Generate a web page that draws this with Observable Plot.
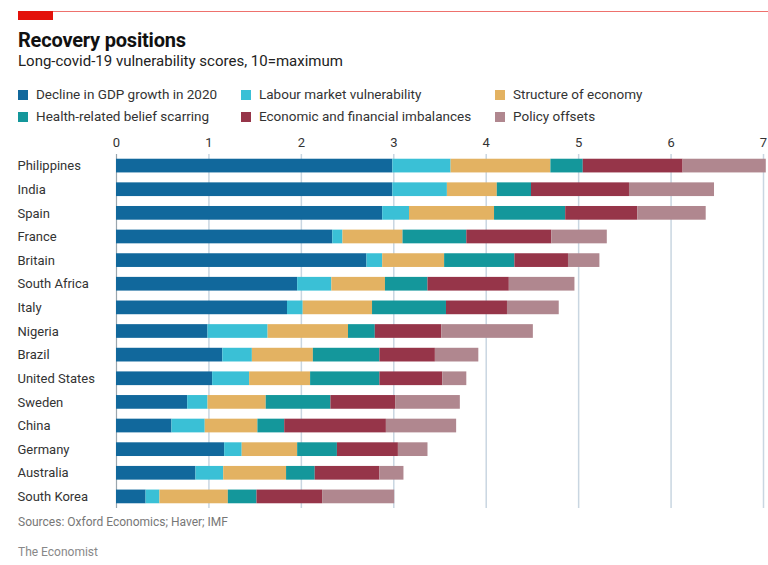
<!DOCTYPE html>
<html>
<head>
<meta charset="utf-8">
<script src="https://cdn.jsdelivr.net/npm/d3@7"></script>
<script src="https://cdn.jsdelivr.net/npm/@observablehq/plot@0.6"></script>
<style>
  html, body { margin: 0; padding: 0; background: #fff; }
  body { width: 768px; height: 565px; position: relative; overflow: hidden; font-family: "Roboto", "DejaVu Sans", sans-serif; color: #222; }
  .topline { position: absolute; left: 18px; right: 0; top: 11px; height: 1px; background: #e3120b; opacity: 0.6; }
  .redbox { position: absolute; left: 18px; top: 11px; width: 35px; height: 9px; background: #e3120b; }
  .title { position: absolute; left: 18px; top: 28px; font-size: 20px; font-weight: bold; color: #111; letter-spacing: -0.2px; }
  .subtitle { position: absolute; left: 18px; top: 52px; font-size: 15px; color: #222; }
  .legend { position: absolute; left: 18px; top: 86px; width: 740px; }
  .item { position: absolute; font-size: 13.5px; color: #333; white-space: nowrap; line-height: 16px; }
  .item span.sw { display: inline-block; width: 10px; height: 10px; margin-right: 8px; vertical-align: -1px; }
  #chart { position: absolute; left: 0; top: 130px; }
  .source { position: absolute; left: 18px; top: 515px; font-size: 12px; color: #777; }
  .brand { position: absolute; left: 18px; top: 545px; font-size: 12px; color: #888; }
</style>
</head>
<body>
<div class="topline"></div>
<div class="redbox"></div>
<div class="title">Recovery positions</div>
<div class="subtitle">Long-covid-19 vulnerability scores, 10=maximum</div>
<div class="legend" id="legend"></div>
<div id="chart"></div>
<div class="source">Sources: Oxford Economics; Haver; IMF</div>
<div class="brand">The Economist</div>
<script>
const countries = ["Philippines","India","Spain","France","Britain","South Africa","Italy","Nigeria","Brazil","United States","Sweden","China","Germany","Australia","South Korea"];
const components = ["Decline in GDP growth in 2020","Labour market vulnerability","Structure of economy","Health-related belief scarring","Economic and financial imbalances","Policy offsets"];
const colors = ["#11689c","#3ac0d6","#e3b262","#14979b","#963549","#b0878f"];
const gdpDecline   = [2.99,2.99,2.88,2.34,2.71,1.96,1.85,0.99,1.15,1.04,0.77,0.60,1.17,0.86,0.32];
const labourMarket = [0.63,0.59,0.29,0.11,0.17,0.37,0.17,0.65,0.32,0.40,0.22,0.36,0.19,0.30,0.15];
const structure    = [1.08,0.54,0.92,0.65,0.67,0.58,0.75,0.87,0.66,0.66,0.63,0.57,0.60,0.68,0.74];
const healthBelief = [0.35,0.37,0.77,0.69,0.76,0.46,0.80,0.29,0.72,0.75,0.70,0.29,0.43,0.31,0.31];
const imbalances   = [1.08,1.06,0.78,0.92,0.58,0.88,0.66,0.72,0.60,0.68,0.70,1.10,0.66,0.70,0.71];
const policy       = [0.90,0.92,0.74,0.60,0.34,0.71,0.56,0.99,0.47,0.26,0.70,0.76,0.32,0.26,0.78];
const xTicks = [0,1,2,3,4,5,6,7];

const series = [gdpDecline, labourMarket, structure, healthBelief, imbalances, policy];
const data = [];
countries.forEach((c, i) => {
  series.forEach((s, j) => data.push({country: c, component: components[j], value: s[i], order: j}));
});

// legend
const legendPos = [[0,0],[223,0],[477,0],[0,22],[223,22],[477,22]];
const lg = document.getElementById("legend");
components.forEach((c, j) => {
  const d = document.createElement("div");
  d.className = "item";
  d.style.left = legendPos[j][0] + "px";
  d.style.top = legendPos[j][1] + "px";
  d.innerHTML = `<span class="sw" style="background:${colors[j]}"></span>${c}`;
  lg.appendChild(d);
});

const chart = Plot.plot({
  width: 768,
  height: 380,
  marginLeft: 116,
  marginRight: 5,
  marginTop: 24,
  marginBottom: 2,
  style: {fontFamily: "Roboto, sans-serif", fontSize: "13px", color: "#333", background: "transparent"},
  x: {domain: [0, 7], ticks: xTicks, axis: null},
  y: {domain: countries, paddingInner: 0.42, paddingOuter: 0.2, round: false, axis: null},
  color: {domain: components, range: colors},
  marks: [
    Plot.gridX(xTicks.slice(1), {stroke: "#c9d6e1", strokeOpacity: 1, strokeWidth: 1.5}),
    Plot.ruleX([0], {stroke: "#9aa6ae", strokeWidth: 1.2}),
    Plot.axisX(xTicks, {anchor: "top", tickSize: 0, tickPadding: 8, fontSize: 13, color: "#333", label: null}),
    Plot.barX(data, Plot.stackX({x: "value", y: "country", fill: "component", order: components, inset: 0})),
    Plot.axisY({tickSize: 0, textAnchor: "start", dx: -90, fontSize: 13, color: "#333", label: null})
  ]
});
document.getElementById("chart").appendChild(chart);
</script>
</body>
</html>
